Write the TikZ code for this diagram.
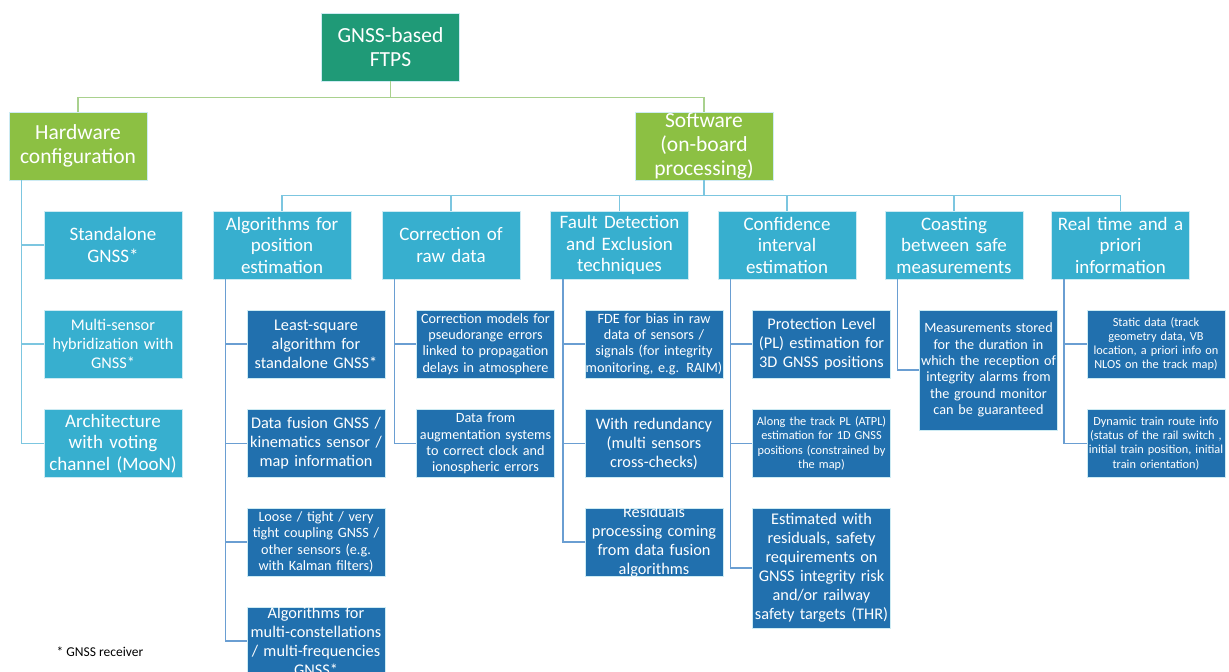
\documentclass[tikz,border=0pt]{standalone}
\usepackage{fontspec}
\setmainfont{Carlito}

\definecolor{rootcol}{HTML}{1F9A77}
\definecolor{limecol}{HTML}{8CC043}
\definecolor{skycol}{HTML}{37AFCF}
\definecolor{deepcol}{HTML}{2170AE}
\definecolor{greenwire}{HTML}{A9D18E}
\definecolor{skywire}{HTML}{7CC6E0}
\definecolor{deepwire}{HTML}{6A9ED2}

\begin{document}
\begin{tikzpicture}
[x=1pt,y=-1pt,%
  boxDecorate/.style={rectangle,draw=white!75!skycol,line width=0.8pt,text=white,align=center,inner xsep=-1pt,inner ysep=-5pt,text width=140pt,minimum height=68pt},%
  rootDecorate/.style={boxDecorate,fill=rootcol,sizeHuge},%
  topDecorate/.style={boxDecorate,fill=limecol,sizeHuge},%
  midDecorate/.style={boxDecorate,fill=skycol},%
  leafDecorate/.style={boxDecorate,fill=deepcol},%
  greenLine/.style={-,draw=greenwire,line width=1.7pt},%
  skyLine/.style={-,draw=skywire,line width=1.7pt},%
  deepLine/.style={-,draw=deepwire,line width=1.7pt},%
  sizeHuge/.style={font=\fontsize{21.5}{24}\selectfont},%
  sizeBig/.style={font=\fontsize{19}{21.5}\selectfont},%
  sizeMid/.style={font=\fontsize{16.3}{19}\selectfont},%
  sizeSmall/.style={font=\fontsize{14.2}{16.3}\selectfont},%
  sizeTiny/.style={font=\fontsize{12.3}{14.2}\selectfont}]
\fill[white] (0,0) rectangle (1229,672);
\useasboundingbox (0,0) rectangle (1229,672);
%% root and the two main branches
\node[rootDecorate] (root) at (390.5,47) {GNSS-based\\FTPS};
\node[topDecorate] (hw) at (78,146) {Hardware\\configuration};
\node[topDecorate] (sw) at (704,146) {Software\\(on-board\\processing)};
\draw[greenLine] (root.south) -- ++(0pt,-16pt) -| (hw.north);
\draw[greenLine] (root.south) -- ++(0pt,-16pt) -| (sw.north);
%% hardware options
\foreach \nodename/\x/\y/\fnt/\txt in {
  sag/113/245/sizeBig/{Standalone\\GNSS*},
  msh/113/344/sizeMid/{Multi-sensor\\hybridization with\\GNSS*},
  arc/113/443.5/sizeBig/{Architecture\\with voting\\channel (MooN)}}
{
  \node[midDecorate,\fnt] (\nodename) at (\x,\y) {\txt};
  \draw[skyLine] ([xshift=13pt]hw.south west) |- (\nodename.west);
}
%% software topics
\foreach \nodename/\x/\txt in {
  alg/282/{Algorithms for\\position\\estimation},
  cor/451/{Correction of\\raw data},
  fde/619.5/{Fault Detection\\and Exclusion\\techniques},
  ci/787/{Confidence\\interval\\estimation},
  coast/954/{Coasting\\between safe\\measurements},
  rt/1120.5/{Real time and a\\priori\\information}}
{
  \node[midDecorate,sizeBig] (\nodename) at (\x,245) {\txt};
  \draw[skyLine] (sw.south) -- ++(0pt,-15pt) -| (\nodename.north);
}
%% leaves of every topic
\foreach \nodename/\parent/\x/\y/\h/\fnt/\txt in {
  las/alg/316/344/68/sizeMid/{Least-square\\algorithm for\\standalone GNSS*},
  dfu/alg/316/443.5/68/sizeMid/{Data fusion GNSS /\\kinematics sensor /\\map information},
  lty/alg/316/542/68/sizeSmall/{Loose / tight / very\\tight coupling GNSS /\\other sensors (e.g.\\with Kalman filters)},
  amc/alg/316/641/68/sizeMid/{Algorithms for\\multi-constellations\\/ multi-frequencies\\GNSS*},
  cmo/cor/485.5/344/68/sizeSmall/{Correction models for\\pseudorange errors\\linked to propagation\\delays in atmosphere},
  aug/cor/485.5/443.5/68/sizeSmall/{Data from\\augmentation systems\\to correct clock and\\ionospheric errors},
  fbi/fde/654/344/68/sizeSmall/{FDE for bias in raw\\data of sensors /\\signals (for integrity\\monitoring, e.g. RAIM)},
  red/fde/654/443.5/68/sizeMid/{With redundancy\\(multi sensors\\cross-checks)},
  res/fde/654/542/68/sizeMid/{Residuals\\processing coming\\from data fusion\\algorithms},
  prl/ci/821.5/344/68/sizeMid/{Protection Level\\(PL) estimation for\\3D GNSS positions},
  atp/ci/821.5/443.5/68/sizeTiny/{Along the track PL (ATPL)\\estimation for 1D GNSS\\positions (constrained by\\the map)},
  est/ci/821.5/568/120/sizeMid/{Estimated with\\residuals, safety\\requirements on\\GNSS integrity risk\\and/or railway\\safety targets (THR)},
  mst/coast/988.5/370/120/sizeSmall/{Measurements stored\\for the duration in\\which the reception of\\integrity alarms from\\the ground monitor\\can be guaranteed},
  sta/rt/1156/344/68/sizeTiny/{Static data (track\\geometry data, VB\\location, a priori info on\\NLOS on the track map)},
  dyn/rt/1156/443.5/68/sizeTiny/{Dynamic train route info\\(status of the rail switch ,\\initial train position, initial\\train orientation)}}
{
  \node[leafDecorate,\fnt,minimum height=\h pt] (\nodename) at (\x,\y) {\txt};
  \draw[deepLine] ([xshift=13pt]\parent.south west) |- (\nodename.west);
}
%% footnote
\node[font=\fontsize{13.5}{16}\selectfont] (note) at (100,652) {* GNSS receiver};
\end{tikzpicture}
\end{document}
